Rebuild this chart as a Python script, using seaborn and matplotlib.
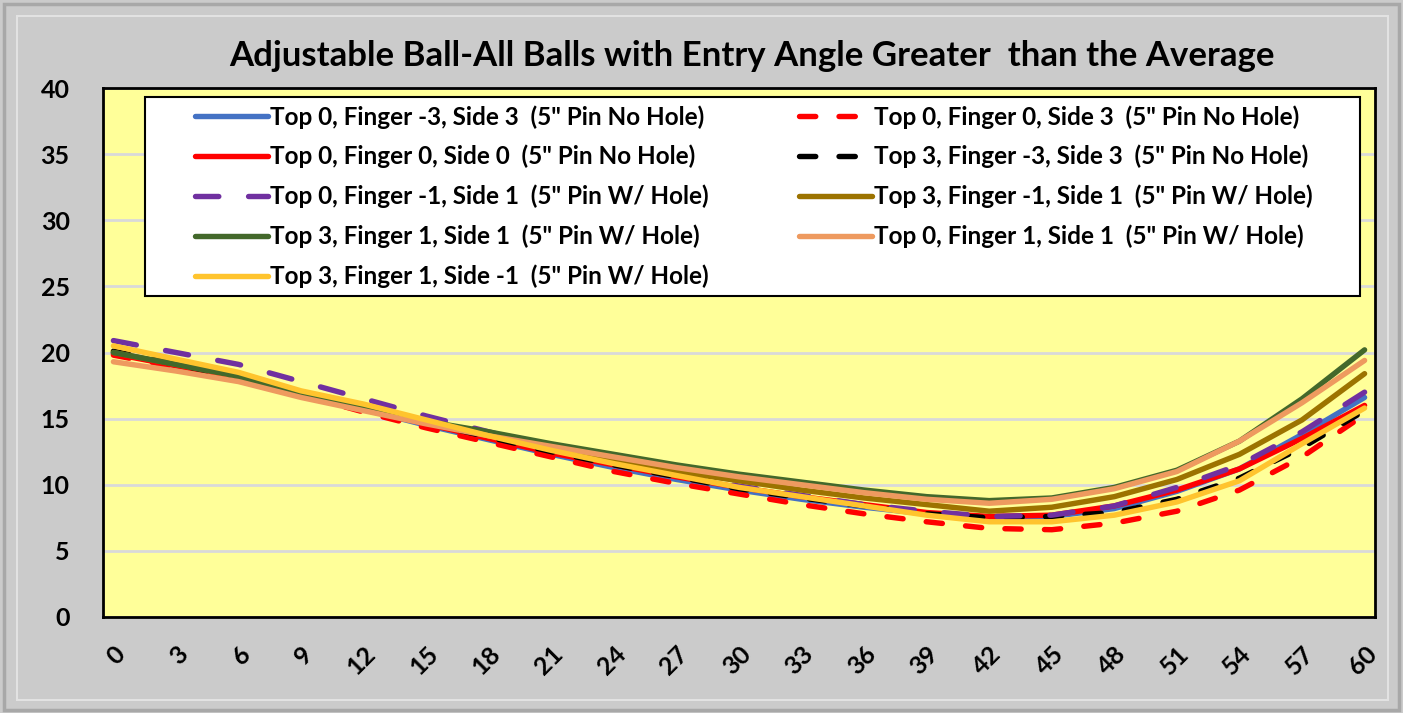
import numpy as np
import pandas as pd
import matplotlib
matplotlib.use("Agg")
import matplotlib.pyplot as plt
import seaborn as sns
from matplotlib.lines import Line2D
from matplotlib.patches import Rectangle

sns.set_style("white")
plt.rcParams['font.family'] = ['Lato', 'DejaVu Sans']
plt.rcParams['text.color'] = 'black'
plt.rcParams['xtick.color'] = 'black'
plt.rcParams['ytick.color'] = 'black'

# x positions shown on the axis (every 3rd category)
angles = list(range(0, 61, 3))

labels = [
    'Top 0, Finger -3, Side 3  (5" Pin No Hole)',
    'Top 0, Finger 0, Side 3  (5" Pin No Hole)',
    'Top 0, Finger 0, Side 0  (5" Pin No Hole)',
    'Top 3, Finger -3, Side 3  (5" Pin No Hole)',
    'Top 0, Finger -1, Side 1  (5" Pin W/ Hole)',
    'Top 3, Finger -1, Side 1  (5" Pin W/ Hole)',
    'Top 3, Finger 1, Side 1  (5" Pin W/ Hole)',
    'Top 0, Finger 1, Side 1  (5" Pin W/ Hole)',
    'Top 3, Finger 1, Side -1  (5" Pin W/ Hole)',
]
colors = ['#4472C4', '#FF0000', '#FF0000', '#000000', '#7030A0',
          '#9C7300', '#43682B', '#EE9A5F', '#FFC42E']
dashed = [None, (3.0, 4.3), None, (3.0, 4.3), (4.3, 5.5), None, None, None, None]

t0_f3_s3 = [20.0, 19.0, 18.1, 16.9, 15.7, 14.5, 13.4, 12.3, 11.3, 10.4, 9.6, 8.9,
            8.3, 7.8, 7.5, 7.6, 8.2, 9.5, 11.2, 13.8, 16.6]
t0_f0_s3 = [19.8, 18.9, 18.0, 16.8, 15.5, 14.3, 13.2, 12.1, 11.0, 10.1, 9.3, 8.5,
            7.8, 7.2, 6.7, 6.6, 7.1, 8.0, 9.6, 12.1, 15.3]
t0_f0_s0 = [19.9, 19.0, 18.1, 16.9, 15.7, 14.6, 13.5, 12.4, 11.5, 10.6, 9.8, 9.1,
            8.5, 7.9, 7.6, 7.7, 8.4, 9.6, 11.2, 13.5, 16.0]
t3_f3_s3 = [20.1, 19.1, 18.1, 16.9, 15.8, 14.7, 13.6, 12.5, 11.5, 10.6, 9.7, 9.0,
            8.4, 7.8, 7.5, 7.6, 7.9, 8.9, 10.5, 12.8, 15.6]
t0_f1_s1_pw = [20.9, 20.0, 19.1, 17.8, 16.5, 15.2, 14.0, 12.8, 11.8, 10.8, 9.9, 9.2,
               8.5, 8.0, 7.6, 7.7, 8.4, 9.8, 11.5, 14.0, 17.0]
t3_f1_s1_pw = [20.0, 19.1, 18.2, 17.0, 15.9, 14.8, 13.8, 12.8, 11.9, 11.0, 10.3, 9.6,
               9.0, 8.5, 8.0, 8.3, 9.1, 10.4, 12.3, 14.9, 18.4]
t3_f1_s1 = [20.0, 19.1, 18.2, 16.9, 15.8, 14.8, 14.0, 13.1, 12.3, 11.5, 10.8, 10.2,
            9.6, 9.1, 8.8, 9.0, 9.8, 11.1, 13.3, 16.5, 20.2]
t0_f1_s1 = [19.3, 18.6, 17.8, 16.6, 15.6, 14.6, 13.7, 12.9, 12.1, 11.3, 10.6, 10.0,
            9.4, 8.9, 8.6, 8.9, 9.7, 11.0, 13.3, 16.2, 19.4]
t3_f1_sm1 = [20.5, 19.5, 18.5, 17.1, 16.1, 14.9, 13.7, 12.6, 11.6, 10.7, 9.8, 9.1,
             8.4, 7.7, 7.2, 7.2, 7.7, 8.7, 10.3, 13.1, 15.8]
series = [t0_f3_s3, t0_f0_s3, t0_f0_s0, t3_f3_s3, t0_f1_s1_pw,
          t3_f1_s1_pw, t3_f1_s1, t0_f1_s1, t3_f1_sm1]

fig = plt.figure(figsize=(14.03, 7.13), dpi=100)
fig.patch.set_facecolor('#CBCBCB')
# bevel frame
fig.patches.append(Rectangle((0.003, 0.004), 0.994, 0.99, transform=fig.transFigure,
                             fill=False, edgecolor='#A8A8A8', lw=2.5))
fig.patches.append(Rectangle((0.012, 0.018), 0.977, 0.96, transform=fig.transFigure,
                             fill=False, edgecolor='#E2E2E2', lw=1.5))

ax = fig.add_axes([103 / 1403, 96 / 713, 1272 / 1403, 529 / 713])
ax.set_facecolor('#FFFF99')

LW = 3.9
handles = []
for vals, lab, col, d in zip(series, labels, colors, dashed):
    df = pd.DataFrame({'angle': angles, 'value': vals})
    sns.lineplot(data=df, x='angle', y='value', color=col, lw=LW, ax=ax,
                 solid_capstyle='round', dash_capstyle='round')
    ln = ax.lines[-1]
    if d is not None:
        ln.set_dashes(d)
    h = Line2D([0], [0], color=col, lw=LW, solid_capstyle='round', dash_capstyle='round')
    if d is not None:
        h.set_dashes(d)
    handles.append(h)

ax.set_xlim(-0.5, 60.5)
ax.set_ylim(0, 40)
ax.set_yticks(range(0, 41, 5))
ax.set_xticks(angles)
ax.set_xlabel('')
ax.set_ylabel('')
ax.grid(axis='y', color='#D9D9D9', lw=2)
ax.set_axisbelow(True)
for s in ax.spines.values():
    s.set_color('black')
    s.set_linewidth(2)
ax.tick_params(axis='both', length=0, labelsize=18)
ax.tick_params(axis='y', pad=24)
ax.tick_params(axis='x', pad=18)
for t in ax.get_yticklabels():
    t.set_fontweight('bold')
for t in ax.get_xticklabels():
    t.set_fontweight('bold')
    t.set_rotation(45)
    t.set_ha('right')
    t.set_va('top')
    t.set_rotation_mode('anchor')

# legend box drawn separately so its padding matches the original
ax.add_patch(Rectangle((0.033, 0.607), 0.955, 0.376, transform=ax.transAxes,
                       facecolor='white', edgecolor='black', lw=1.5, zorder=4))
order = [0, 2, 4, 6, 8, 1, 3, 5, 7]
leg = ax.legend([handles[i] for i in order], [labels[i] for i in order],
                loc='upper left', bbox_to_anchor=(0.0723, 0.968),
                ncol=2, frameon=False,
                prop={'weight': 'bold', 'size': 17.5}, handlelength=3.0,
                handletextpad=0.1, labelspacing=0.67, borderaxespad=0,
                columnspacing=3.7, borderpad=0)
leg.set_zorder(5)

fig.text(0.536, 0.922, 'Adjustable Ball-All Balls with Entry Angle Greater  than the Average',
         ha='center', va='center', fontsize=25, fontweight='bold')

fig.savefig('out.png', dpi=100, facecolor=fig.get_facecolor())
